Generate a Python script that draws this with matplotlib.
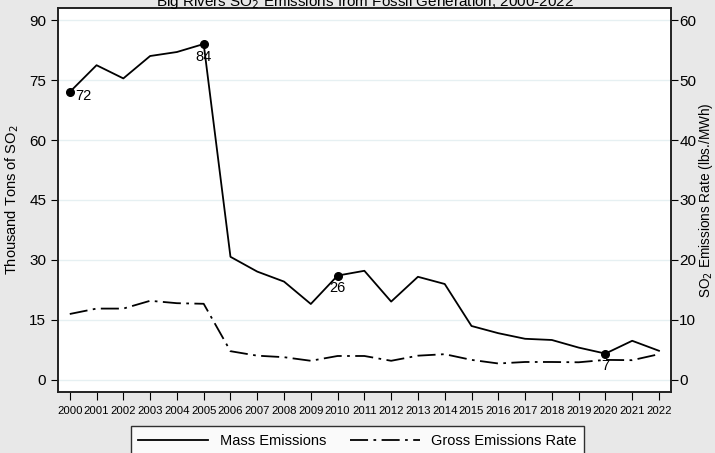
import matplotlib
matplotlib.use("Agg")
import matplotlib.pyplot as plt

plt.rcParams['font.family'] = ['Liberation Sans', 'DejaVu Sans']

# data
years = list(range(2000, 2023))
mass_emissions = [72, 78.7, 75.4, 81, 82, 84, 30.8, 27.1, 24.6, 19, 26.1, 27.3, 19.6,
                  25.8, 24, 13.5, 11.7, 10.3, 10, 8.1, 6.6, 9.8, 7.3]
gross_rate = [11, 11.9, 11.9, 13.2, 12.8, 12.7, 4.8, 4.05, 3.8, 3.2, 4.0, 4.0, 3.2,
              4.05, 4.3, 3.35, 2.75, 3.0, 3.0, 2.95, 3.35, 3.3, 4.3]
labeled_years = [2000, 2005, 2010, 2020]
label_text = ['72', '84', '26', '7']

fig = plt.figure(figsize=(7.15, 4.53), dpi=100, facecolor='#e8e8e8')
ax = fig.add_axes([0.0811, 0.1347, 0.8574, 0.8476])
ax.set_facecolor('white')
ax2 = ax.twinx()

# mass emissions on left axis
ax.plot(years, mass_emissions, color='black', lw=1.3, label='Mass Emissions', zorder=3)
for yr, txt in zip(labeled_years, label_text):
    val = mass_emissions[years.index(yr)]
    ax.plot(yr, val, 'o', color='black', ms=5.5, zorder=4)
    if yr == 2000:
        ax.annotate(txt, (yr, val), xytext=(4, -3), textcoords='offset points',
                    ha='left', va='center', fontsize=10.5)
    else:
        ax.annotate(txt, (yr, val), xytext=(0, -4), textcoords='offset points',
                    ha='center', va='top', fontsize=10.5)

# emissions rate on right axis
ax2.plot(years, gross_rate, color='black', lw=1.3, linestyle=(0, (10, 3, 1.5, 3)),
         label='Gross Emissions Rate')

ax.set_xlim(1999.56, 2022.45)
ax.set_ylim(-3, 93)
ax2.set_ylim(-2, 62)
ax.set_yticks([0, 15, 30, 45, 60, 75, 90])
ax2.set_yticks([0, 10, 20, 30, 40, 50, 60])
ax.set_xticks(years)
ax.set_xticklabels([str(y) for y in years], fontsize=8.2)
ax.tick_params(axis='x', length=6, pad=4, direction='out')
ax.tick_params(axis='y', labelsize=11, length=5, direction='out')
ax2.tick_params(axis='y', labelsize=11, length=5, direction='out', pad=1)
ax.grid(axis='y', color='#e6f0f2', lw=1)
ax.set_axisbelow(True)
for s in list(ax.spines.values()) + list(ax2.spines.values()):
    s.set_color('#222222')
    s.set_linewidth(1.2)

ax.set_ylabel('Thousand Tons of SO$_2$', fontsize=10.5, labelpad=6)
ax2.set_ylabel('SO$_2$ Emissions Rate (lbs./MWh)', fontsize=9.8, labelpad=0.5)

fig.text(0.51, 0.996, 'Big Rivers SO$_2$ Emissions from Fossil Generation, 2000-2022',
         ha='center', va='center', fontsize=11)

h1, l1 = ax.get_legend_handles_labels()
h2, l2 = ax2.get_legend_handles_labels()
leg = fig.legend(h1 + h2, l1 + l2, loc='upper center', bbox_to_anchor=(0.5, 0.075),
                 ncol=2, fontsize=10.5, frameon=True, fancybox=False,
                 handlelength=4.8, columnspacing=1.6, borderpad=0.5,
                 edgecolor='black', facecolor='white')
leg.get_frame().set_linewidth(1.0)

fig.savefig('out.png', dpi=100, facecolor=fig.get_facecolor())
